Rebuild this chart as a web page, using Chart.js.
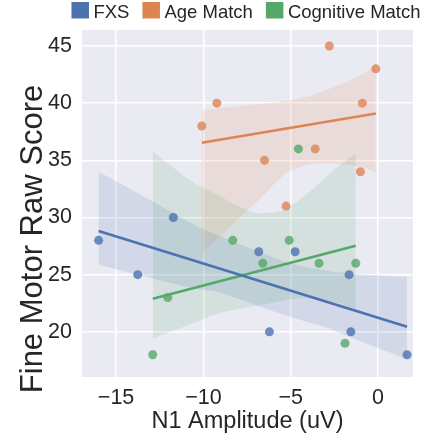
<!DOCTYPE html>
<html>
<head>
<meta charset="utf-8">
<script src="https://cdn.jsdelivr.net/npm/chart.js@4.4.1/dist/chart.umd.min.js"></script>
<style>
  html, body { margin: 0; padding: 0; background: #ffffff; }
  #wrap { width: 432px; height: 440px; }
</style>
</head>
<body>
<div id="wrap"><canvas id="c" width="432" height="440"></canvas></div>
<script>
// ---------- data ----------
const groups = ["FXS", "Age Match", "Cognitive Match"];

const fxsX = [-16.0, -11.72, -13.76, -6.83, -4.75, -6.22, -1.66, -1.56, 1.66];
const fxsY = [28, 30, 25, 27, 27, 20, 25, 20, 18];

const ageX = [-9.23, -10.09, -2.79, -0.13, -0.9, -3.6, -6.5, -1.01, -5.27];
const ageY = [40, 38, 45, 43, 40, 36, 35, 34, 31];

const cogX = [-4.56, -8.32, -5.09, -6.6, -3.38, -1.28, -12.04, -12.9, -1.89];
const cogY = [36, 28, 28, 26, 26, 26, 23, 18, 19];

// confidence bands
const fxsBandX  = [-16.0, -12.9, -10.5, -9.2, -7.3, -5.0, -2.8, -1.6, -0.7, 1.66];
const fxsBandHi = [34.0, 31.4, 29.35, 28.45, 27.3, 26.0, 25.3, 25.1, 25.0, 24.8];
const fxsBandLo = [25.9, 24.66, 23.8, 23.5, 22.5, 21.3, 20.3, 19.55, 19.0, 17.6];

const ageBandX  = [-10.09, -8.8, -7.6, -6.65, -5.7, -4.9, -3.4, -1.6, -0.7, -0.13];
const ageBandHi = [39.4, 39.6, 39.8, 39.95, 40.1, 40.3, 40.9, 42.0, 42.7, 43.5];
const ageBandLo = [26.9, 28.7, 30.5, 31.8, 33.3, 34.2, 34.75, 34.6, 34.3, 33.9];

const cogBandX  = [-12.9, -10.5, -9.2, -8.0, -6.9, -5.5, -4.8, -3.8, -2.5, -1.28];
const cogBandHi = [35.76, 33.0, 32.0, 30.98, 30.4, 30.6, 31.2, 32.4, 34.2, 35.6];
const cogBandLo = [19.45, 20.8, 21.6, 22.0, 22.3, 22.7, 22.9, 22.9, 22.6, 22.0];

const xTicks = [-15, -10, -5, 0];
const yTicks = [20, 25, 30, 35, 40, 45];

const xTitle = 'N1 Amplitude (uV)';
const yTitle = 'Fine Motor Raw Score';

// ---------- styling ----------
const colors = ["#4C72B0", "#DD8452", "#55A868"];
const FONT = "'Liberation Sans', Arial, Helvetica, sans-serif";
const TEXT = "#262626";

function pts(xs, ys) { return xs.map((x, i) => ({ x: x, y: ys[i] })); }
function fit(xs, ys) {
  const n = xs.length;
  const mx = xs.reduce((a, b) => a + b, 0) / n;
  const my = ys.reduce((a, b) => a + b, 0) / n;
  let sxy = 0, sxx = 0;
  for (let i = 0; i < n; i++) { sxy += (xs[i] - mx) * (ys[i] - my); sxx += (xs[i] - mx) ** 2; }
  const b = sxy / sxx, a = my - b * mx;
  const lo = Math.min(...xs), hi = Math.max(...xs);
  return [{ x: lo, y: a + b * lo }, { x: hi, y: a + b * hi }];
}
function rgba(hex, a) {
  const n = parseInt(hex.slice(1), 16);
  return `rgba(${(n >> 16) & 255},${(n >> 8) & 255},${n & 255},${a})`;
}

const sets = [
  { x: fxsX, y: fxsY, bx: fxsBandX, hi: fxsBandHi, lo: fxsBandLo },
  { x: ageX, y: ageY, bx: ageBandX, hi: ageBandHi, lo: ageBandLo },
  { x: cogX, y: cogY, bx: cogBandX, hi: cogBandHi, lo: cogBandLo }
];

const datasets = [];
// points (drawn on top)
sets.forEach((s, g) => {
  datasets.push({
    type: 'scatter', label: groups[g], data: pts(s.x, s.y),
    backgroundColor: rgba(colors[g], 0.8), borderWidth: 0,
    pointRadius: 4.5, pointHoverRadius: 4.5
  });
});
// regression lines
sets.forEach((s, g) => {
  datasets.push({
    type: 'line', label: groups[g] + ' fit', data: fit(s.x, s.y),
    borderColor: colors[g], borderWidth: 2.6, pointRadius: 0, fill: false, tension: 0
  });
});
// bands
sets.forEach((s, g) => {
  datasets.push({
    type: 'line', label: groups[g] + ' ci hi', data: pts(s.bx, s.hi),
    borderWidth: 0, borderColor: 'rgba(0,0,0,0)', pointRadius: 0, tension: 0.3,
    fill: '+1', backgroundColor: rgba(colors[g], 0.15)
  });
  datasets.push({
    type: 'line', label: groups[g] + ' ci lo', data: pts(s.bx, s.lo),
    borderWidth: 0, borderColor: 'rgba(0,0,0,0)', pointRadius: 0, tension: 0.3,
    fill: false
  });
});

const bgPlugin = {
  id: 'plotBg',
  beforeDraw(chart) {
    const { ctx, chartArea: a } = chart;
    ctx.save();
    ctx.fillStyle = '#EAEAF2';
    ctx.fillRect(a.left, a.top, a.right - a.left, a.bottom - a.top);
    ctx.restore();
  }
};

const legendPlugin = {
  id: 'topLegend',
  afterDraw(chart) {
    const { ctx, chartArea: a } = chart;
    ctx.save();
    ctx.font = `18.5px ${FONT}`;
    const box = 17.5, gapText = 4.5, gapItem = 13;
    const widths = groups.map(t => box + gapText + ctx.measureText(t).width);
    const total = widths.reduce((p, q) => p + q, 0) + gapItem * (groups.length - 1);
    let x = 246 - total / 2;
    groups.forEach((t, i) => {
      ctx.fillStyle = colors[i];
      ctx.fillRect(x, 2, box, 16.5);
      ctx.fillStyle = TEXT;
      ctx.textBaseline = 'alphabetic';
      ctx.fillText(t, x + box + gapText, 17.5);
      x += widths[i] + gapItem;
    });
    // y-axis title (large, as in the reference)
    ctx.font = `31px ${FONT}`;
    ctx.translate(42, 239);
    ctx.rotate(-Math.PI / 2);
    ctx.textAlign = 'center';
    ctx.textBaseline = 'alphabetic';
    ctx.fillStyle = TEXT;
    ctx.fillText(yTitle, 0, 0);
    ctx.restore();
  }
};

const minus = v => String(v).replace('-', '\u2212');

new Chart(document.getElementById('c'), {
  type: 'scatter',
  data: { datasets: datasets },
  plugins: [bgPlugin, legendPlugin],
  options: {
    responsive: false,
    animation: false,
    devicePixelRatio: 1,
    layout: { padding: { top: 30, right: 19, left: 0, bottom: 0 } },
    plugins: { legend: { display: false }, tooltip: { enabled: false } },
    scales: {
      x: {
        type: 'linear', min: -16.95, max: 2.0,
        afterBuildTicks: s => { s.ticks = xTicks.map(v => ({ value: v })); },
        afterFit: s => { s.height = 63; },
        border: { display: false },
        grid: { color: '#ffffff', lineWidth: 1.5, drawTicks: false },
        ticks: { color: TEXT, font: { family: FONT, size: 21.5 }, padding: 8, callback: v => minus(v) },
        title: { display: true, text: xTitle, color: TEXT,
                 font: { family: FONT, size: 23.5 }, padding: { top: 0, bottom: 4 } }
      },
      y: {
        type: 'linear', min: 16.05, max: 46.4,
        afterBuildTicks: s => { s.ticks = yTicks.map(v => ({ value: v })); },
        afterFit: s => { s.width = 82; },
        border: { display: false },
        grid: { color: '#ffffff', lineWidth: 1.5, drawTicks: false },
        ticks: { color: TEXT, font: { family: FONT, size: 21.5 }, padding: 10, callback: v => minus(v) },
        title: { display: false }
      }
    }
  }
});
</script>
</body>
</html>
